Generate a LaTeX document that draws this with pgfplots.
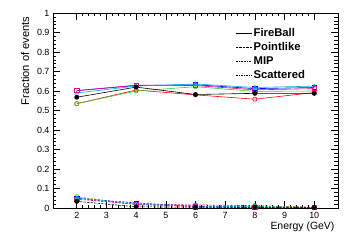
\documentclass[border=0pt]{standalone}
\usepackage{fontspec}
\setmainfont{Liberation Sans}
\usepackage{pgfplots}
\pgfplotsset{compat=1.18}
\definecolor{rgreen}{rgb}{0.2,0.8,0.2}
\begin{document}
\begin{tikzpicture}
\useasboundingbox (-53bp,-34bp) rectangle (304bp,208bp);
\begin{axis}[
  at={(0,0)}, anchor=south west,
  scale only axis, width=285bp, height=195bp,
  xmin=1.2, xmax=10.8, ymin=0, ymax=1,
  xtick={2,3,4,5,6,7,8,9,10},
  ytick={0,0.1,0.2,0.3,0.4,0.5,0.6,0.7,0.8,0.9,1},
  yticklabels={0,0.1,0.2,0.3,0.4,0.5,0.6,0.7,0.8,0.9,1},
  minor x tick num=4, minor y tick num=4,
  tick align=inside, xtick pos=both, ytick pos=both,
  major tick length=7bp, minor tick length=3.5bp,
  tick style={black, line width=0.5pt},
  axis line style={line width=0.6pt},
  /pgf/number format/assume math mode=true,
  ticklabel style={font=\fontsize{9}{10}\selectfont},
  xticklabel style={yshift=-1bp},
  xlabel={Energy (GeV)},
  ylabel={Fraction of events},
  xlabel style={font=\fontsize{10.5}{12}\selectfont, at={(axis description cs:1,-0.0974)}, anchor=east},
  ylabel style={font=\fontsize{11.2}{12}\selectfont, at={(axis description cs:-0.098,1)}, anchor=east},
  clip=false,
  legend style={at={(axis description cs:0.64,0.93)}, anchor=north west, draw=none, fill=none,
    font=\bfseries\fontsize{11.3}{13}\selectfont, row sep=1.5bp, legend cell align=left,
    inner sep=0pt, nodes={inner sep=1.5bp}},
  legend image code/.code={\draw[#1] (0bp,0bp) -- (16bp,0bp);},
  every axis plot/.append style={line width=0.6pt, mark size=2.1bp},
]
\addlegendimage{black, solid}
\addlegendentry{FireBall}
\addlegendimage{black, dash pattern=on 2.2bp off 1.3bp}
\addlegendentry{Pointlike}
\addlegendimage{black, dash pattern=on 0.8bp off 0.8bp}
\addlegendentry{MIP}
\addlegendimage{black, dash pattern=on 2.2bp off 1bp on 0.8bp off 1bp}
\addlegendentry{Scattered}
% FireBall
\addplot[forget plot, red, mark=o] coordinates {(2,0.535)(4,0.605)(6,0.580)(8,0.558)(10,0.592)};
\addplot[forget plot, rgreen, mark=o] coordinates {(2,0.535)(4,0.600)(6,0.622)(8,0.598)(10,0.600)};
\addplot[forget plot, blue, mark=square] coordinates {(2,0.602)(4,0.628)(6,0.632)(8,0.612)(10,0.618)};
\addplot[forget plot, magenta, mark=square] coordinates {(2,0.602)(4,0.630)(6,0.628)(8,0.606)(10,0.612)};
\addplot[forget plot, cyan, mark=triangle] coordinates {(2,0.590)(4,0.625)(6,0.636)(8,0.618)(10,0.625)};
\addplot[forget plot, black, mark=*] coordinates {(2,0.568)(4,0.620)(6,0.582)(8,0.588)(10,0.588)};
% Pointlike
\addplot[forget plot, red, dash pattern=on 2.2bp off 1.3bp, mark=o, mark options={solid}] coordinates {(2,0.050)(4,0.018)(6,0.016)(8,0.012)(10,0.004)};
\addplot[forget plot, rgreen, dash pattern=on 2.2bp off 1.3bp, mark=o, mark options={solid}] coordinates {(2,0.058)(4,0.016)(6,0.010)(8,0.008)(10,0.004)};
\addplot[forget plot, blue, dash pattern=on 2.2bp off 1.3bp, mark=square, mark options={solid}] coordinates {(2,0.050)(4,0.026)(6,0.008)(8,0.004)(10,0.002)};
\addplot[forget plot, magenta, dash pattern=on 2.2bp off 1.3bp, mark=square, mark options={solid}] coordinates {(2,0.045)(4,0.020)(6,0.006)(8,0.002)(10,0.002)};
\addplot[forget plot, cyan, dash pattern=on 2.2bp off 1.3bp, mark=triangle, mark options={solid}] coordinates {(2,0.052)(4,0.020)(6,0.010)(8,0.006)(10,0.004)};
\addplot[forget plot, black, dash pattern=on 2.2bp off 1.3bp, mark=*, mark options={solid}] coordinates {(2,0.034)(4,0.006)(6,0.004)(8,0.004)(10,0.003)};
\end{axis}
\end{tikzpicture}
\end{document}
